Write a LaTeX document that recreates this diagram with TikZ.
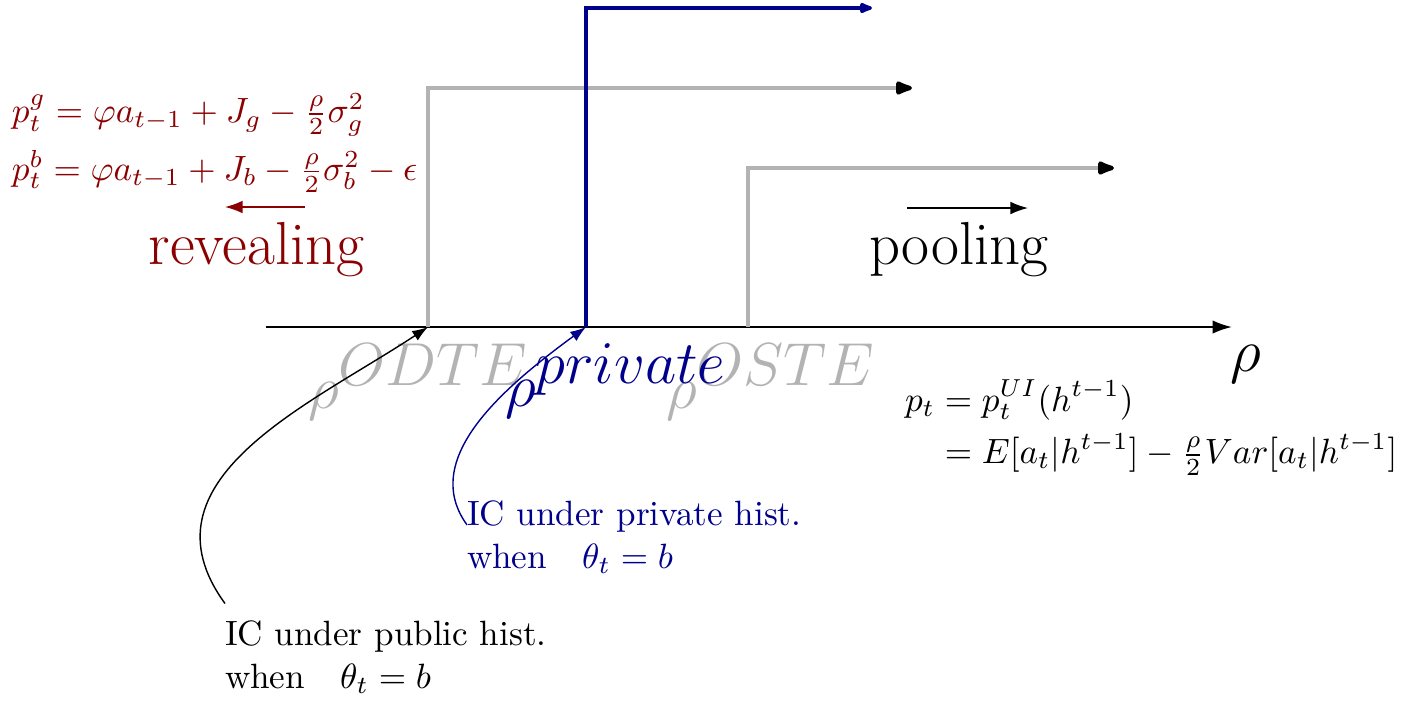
\documentclass[tikz,border=0pt]{standalone}
\usepackage{amsmath}
\usepackage{tikz}
\usetikzlibrary{arrows.meta}
\definecolor{revealred}{HTML}{8B0000}
\definecolor{privblue}{HTML}{00008B}
\definecolor{stepgray}{HTML}{B3B3B3}

\begin{document}
\begin{tikzpicture}[>={Latex[round]}]

\tikzstyle{every node}=[inner sep=0pt, outer sep=0pt]
\tikzstyle{gstep}=[stepgray, line width=1.2pt, -{Latex[round, black, length=6.5pt, width=4.6pt]}]
\tikzstyle{bstep}=[privblue, line width=1.2pt, -{Latex[round, length=5pt, width=3.6pt]}]
\tikzstyle{icline}=[thin, -{Latex[length=4.5pt, width=3.2pt]}]
\tikzstyle{thresh}=[font=\LARGE, anchor=base west]

\useasboundingbox (0,0) rectangle (14.02,-7.00);

\coordinate (left) at (2.66,-3.27);
\coordinate (right) at (12.32,-3.27);
\coordinate (odte) at (4.28,-3.27);
\coordinate (priv) at (5.86,-3.27);
\coordinate (oste) at (7.48,-3.27);
\coordinate (odteend) at (9.12,-0.88);
\coordinate (privend) at (8.72,-0.08);
\coordinate (osteend) at (11.14,-1.68);

\draw[semithick, -{Latex[length=5.5pt, width=3.8pt]}] (left) -- (right);
\draw (12.30,-3.71) node[anchor=base west, font=\LARGE] (rho) {$\rho$};

\draw[gstep] (odte) |- (odteend);
\draw[gstep] (oste) |- (osteend);
\draw[bstep] (priv) |- (privend);

\node[thresh, text=stepgray] (lodte) at (3.08,-4.08) {$\rho^{\mbox{$ODTE$}}$};
\node[thresh, text=stepgray] (loste) at (6.66,-4.08) {$\rho^{\mbox{$OSTE$}}$};
\node[thresh, text=privblue] (lpriv) at (5.05,-4.06) {$\rho^{\mbox{$private$}}$};

\node[anchor=base west, align=left, text=revealred] (prices) at (0.12,-1.80)
  {$p_t^g = \varphi a_{t-1} + J_g - \frac{\rho}{2}\sigma_g^2$\\[3pt]
   $p_t^b = \varphi a_{t-1} + J_b - \frac{\rho}{2}\sigma_b^2 - \epsilon$};

\coordinate (rvfrom) at (3.05,-2.07);
\coordinate (rvto) at (2.25,-2.07);
\draw[revealred, -{Latex[length=5pt, width=3.6pt]}] (rvfrom) -- (rvto);
\node[anchor=base, font=\LARGE, text=revealred] (reveal) at (2.565,-2.64) {revealing};

\coordinate (plfrom) at (9.07,-2.08);
\coordinate (plto) at (10.28,-2.08);
\draw[-{Latex[length=5pt, width=3.6pt]}] (plfrom) -- (plto);
\node[anchor=base, font=\LARGE] (pool) at (9.59,-2.64) {pooling};

\node[anchor=west] (pricing) at (9.05,-4.28)
  {$\begin{aligned} p_t &= p_t^{UI}(h^{t-1})\\[-1.3pt] &= E[a_t|h^{t-1}] - \tfrac{\rho}{2}Var[a_t|h^{t-1}]\end{aligned}$};

\node[anchor=base west, align=left] (icpub) at (2.25,-6.88)
  {IC under public hist.\\ when\quad$\theta_t = b$};
\node[anchor=base west, align=left, text=privblue] (icpriv) at (4.67,-5.68)
  {IC under private hist.\\ when\quad$\theta_t = b$};

\draw[icline] ([yshift=5pt]icpub.north west) .. controls (1.35,-4.8) and (3.1,-4.05) .. (odte);
\draw[icline, privblue] ([yshift=3.5pt]icpriv.west) .. controls (4.2,-4.6) and (5.0,-3.9) .. (priv);

\end{tikzpicture}
\end{document}
